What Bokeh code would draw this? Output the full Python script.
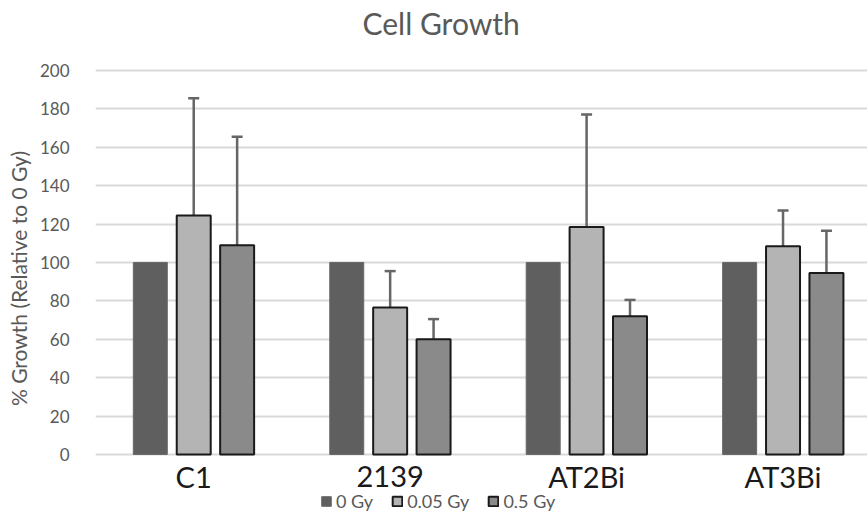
from bokeh.plotting import figure
from bokeh.models import (ColumnDataSource, FixedTicker, Legend, LegendItem, Whisker, TeeHead, Range1d)
from bokeh.transform import dodge
from bokeh.core.properties import value
from bokeh.embed import file_html
from bokeh.resources import INLINE

cell_lines = ["C1", "2139", "AT2Bi", "AT3Bi"]
doses = ["0 Gy", "0.05 Gy", "0.5 Gy"]
growth_0 = [100, 100, 100, 100]
growth_005 = [124.5, 76.5, 118.5, 108.5]
growth_05 = [109, 60, 72, 94.5]
err_005 = [61, 19, 58.5, 18.5]
err_05 = [56.5, 10.5, 8.5, 22]
y_ticks = [0, 20, 40, 60, 80, 100, 120, 140, 160, 180, 200]

FONT = "Lato"
TXT = "#595959"

xc = [i + 0.5 for i in range(len(cell_lines))]
src = ColumnDataSource(dict(
    x=xc, name=cell_lines, g0=growth_0, g1=growth_005, g2=growth_05,
    up1=[v + e for v, e in zip(growth_005, err_005)],
    up2=[v + e for v, e in zip(growth_05, err_05)],
    ylab=[-11.5] * len(cell_lines),
))

p = figure(width=867, height=516, output_backend="svg", toolbar_location=None,
           x_range=Range1d(0, 3.93), y_range=Range1d(-32.3, 215.6),
           min_border_left=95, min_border_right=0, min_border_top=40, min_border_bottom=0,
           title="Cell Growth")
p.outline_line_color = None
p.background_fill_color = "white"
p.border_fill_color = "white"

p.title.align = "left"
p.title.offset = 267
p.title.text_font = FONT
p.title.text_font_size = "30px"
p.title.text_font_style = "normal"
p.title.text_color = TXT
p.title.standoff = 0

off = 0.221
w = 0.173
r0 = p.vbar(x=dodge("x", -off, range=p.x_range), top="g0", bottom=0, width=w, source=src,
            fill_color="#5f5f5f", line_color="#686868", line_width=1)
r1 = p.vbar(x=dodge("x", 0, range=p.x_range), top="g1", bottom=0, width=w, source=src,
            fill_color="#b4b4b4", line_color="#1a1a1a", line_width=2)
r2 = p.vbar(x=dodge("x", off, range=p.x_range), top="g2", bottom=0, width=w, source=src,
            fill_color="#8a8a8a", line_color="#1a1a1a", line_width=2)

for col_lo, col_hi, dx in [("g1", "up1", 0.0), ("g2", "up2", off)]:
    wh = Whisker(base=dodge("x", dx, range=p.x_range), lower=col_lo, upper=col_hi, source=src,
                 line_color="#666666", line_width=2.5,
                 upper_head=TeeHead(size=11, line_color="#666666", line_width=2.5),
                 lower_head=None, level="underlay")
    p.add_layout(wh)

p.text(x="x", y="ylab", text="name", source=src, text_font=value(FONT),
       text_font_size="29px", text_color="#1a1a1a", text_align="center", text_baseline="middle")

p.ygrid.grid_line_color = "#d9d9d9"
p.ygrid.grid_line_width = 2
p.xgrid.grid_line_color = None
p.xaxis.visible = False

p.yaxis.ticker = FixedTicker(ticks=y_ticks)
p.yaxis.axis_line_color = None
p.yaxis.major_tick_line_color = None
p.yaxis.minor_tick_line_color = None
p.yaxis.major_label_text_font = FONT
p.yaxis.major_label_text_font_size = "17px"
p.yaxis.major_label_text_color = TXT
p.yaxis.major_label_standoff = 20
p.yaxis.axis_label = "% Growth (Relative to 0 Gy)"
p.yaxis.axis_label_text_font = FONT
p.yaxis.axis_label_text_font_size = "21px"
p.yaxis.axis_label_text_font_style = "normal"
p.yaxis.axis_label_text_color = TXT
p.yaxis.axis_label_standoff = 6

legend = Legend(items=[LegendItem(label=d, renderers=[r]) for d, r in zip(doses, [r0, r1, r2])],
                orientation="horizontal", location=(225, 4),
                label_text_font=FONT, label_text_font_size="18px", label_text_color=TXT,
                glyph_width=12, glyph_height=12, spacing=18, label_standoff=4,
                padding=0, margin=0, background_fill_alpha=0, border_line_color=None)
p.add_layout(legend, "center")

open("out.html", "w").write(file_html(p, INLINE))
